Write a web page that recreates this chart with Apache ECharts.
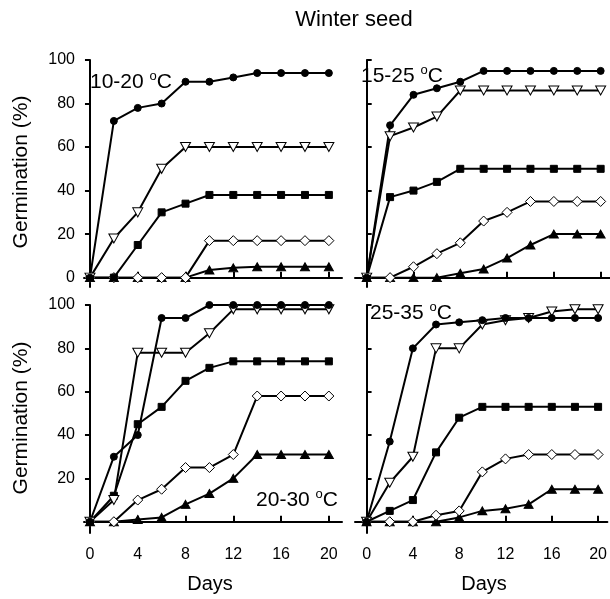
<!DOCTYPE html>
<html>
<head>
<meta charset="utf-8">
<script src="https://cdn.jsdelivr.net/npm/echarts@6/dist/echarts.min.js"></script>
<style>
  html, body { margin: 0; padding: 0; background: #fff; }
  #chart { width: 610px; height: 599px; }
</style>
</head>
<body>
<div id="chart"></div>
<script>
// days of incubation
var days = [0, 2, 4, 6, 8, 10, 12, 14, 16, 18, 20]
var xTicks = [0, 4, 8, 12, 16, 20]
var yTicksTop = [0, 20, 40, 60, 80, 100]
var yLabelsBottom = [20, 40, 60, 80, 100]

// 10-20 oC
var p1Circle = [0, 72, 78, 80, 90, 90, 92, 94, 94, 94, 94]
var p1TriDown = [0, 18, 30, 50, 60, 60, 60, 60, 60, 60, 60]
var p1Square = [0, 0, 15, 30, 34, 38, 38, 38, 38, 38, 38]
var p1Diamond = [0, 0, 0, 0, 0, 17, 17, 17, 17, 17, 17]
var p1TriUp = [0, 0, 0, 0, 0, 3.5, 4.5, 5, 5, 5, 5]

// 15-25 oC
var p2Circle = [0, 70, 84, 87, 90, 95, 95, 95, 95, 95, 95]
var p2TriDown = [0, 65, 69, 74, 86, 86, 86, 86, 86, 86, 86]
var p2Square = [0, 37, 40, 44, 50, 50, 50, 50, 50, 50, 50]
var p2Diamond = [0, 0, 5, 11, 16, 26, 30, 35, 35, 35, 35]
var p2TriUp = [0, 0, 0, 0, 2, 4, 9, 15, 20, 20, 20]

// 20-30 oC
var p3Circle = [0, 30, 40, 94, 94, 100, 100, 100, 100, 100, 100]
var p3TriDown = [0, 10, 78, 78, 78, 87, 98, 98, 98, 98, 98]
var p3Square = [0, 12, 45, 53, 65, 71, 74, 74, 74, 74, 74]
var p3Diamond = [0, 0, 10, 15, 25, 25, 31, 58, 58, 58, 58]
var p3TriUp = [0, 0, 1, 2, 8, 13, 20, 31, 31, 31, 31]

// 25-35 oC
var p4Circle = [0, 37, 80, 91, 92, 93, 94, 94, 94, 94, 94]
var p4TriDown = [0, 18, 30, 80, 80, 91, 93, 94, 97, 98, 98]
var p4Square = [0, 5, 10, 32, 48, 53, 53, 53, 53, 53, 53]
var p4Diamond = [0, 0, 0, 3, 5, 23, 29, 31, 31, 31, 31]
var p4TriUp = [0, 0, 0, 0, 2, 5, 6, 8, 15, 15, 15]

var FONT = 'Liberation Sans, Arial, sans-serif'

var chart = echarts.init(document.getElementById('chart'))

// marker styles
var markers = {
  circle: { symbol: 'circle', symbolSize: 7, fill: '#000', rotate: 0 },
  triDown: { symbol: 'triangle', symbolSize: [10, 9], fill: '#fff', rotate: 180 },
  square: { symbol: 'rect', symbolSize: 7, fill: '#000', rotate: 0 },
  diamond: { symbol: 'diamond', symbolSize: [10, 10], fill: '#fff', rotate: 0 },
  triUp: { symbol: 'triangle', symbolSize: [9, 8], fill: '#000', rotate: 0 }
}

function makeSeries(panel, vals, m) {
  var mk = markers[m]
  return {
    type: 'line',
    xAxisIndex: panel,
    yAxisIndex: panel,
    data: days.map(function (d, i) { return [d, vals[i]] }),
    symbol: mk.symbol,
    symbolSize: mk.symbolSize,
    symbolRotate: mk.rotate,
    showAllSymbol: true,
    lineStyle: { color: '#000', width: 2 },
    itemStyle: { color: mk.fill, borderColor: '#000', borderWidth: 1, opacity: 1 },
    emphasis: { disabled: true }
  }
}

var panels = [
  [p1Circle, p1TriDown, p1Square, p1Diamond, p1TriUp],
  [p2Circle, p2TriDown, p2Square, p2Diamond, p2TriUp],
  [p3Circle, p3TriDown, p3Square, p3Diamond, p3TriUp],
  [p4Circle, p4TriDown, p4Square, p4Diamond, p4TriUp]
]
var order = ['circle', 'triDown', 'square', 'diamond', 'triUp']

var series = []
panels.forEach(function (p, pi) {
  // draw open markers' lines first so the filled ones sit on top
  for (var k = p.length - 1; k >= 0; k--) {
    series.push(makeSeries(pi, p[k], order[k]))
  }
})

function xAxis(idx, min, max, showLabel) {
  return {
    type: 'value',
    gridIndex: idx,
    min: min,
    max: max,
    splitLine: { show: false },
    axisLine: { lineStyle: { color: '#000', width: 2 } },
    axisTick: { inside: true, length: 6, lineStyle: { color: '#000', width: 2 }, customValues: xTicks },
    axisLabel: { show: showLabel, customValues: xTicks, margin: 14, color: '#000', fontSize: 16, fontFamily: FONT }
  }
}

function yAxis(idx, min, left, ticks, labels) {
  return {
    type: 'value',
    gridIndex: idx,
    min: min,
    max: 100,
    splitLine: { show: false },
    axisLine: { lineStyle: { color: '#000', width: 2 } },
    axisTick: { inside: !left, length: 5, lineStyle: { color: '#000', width: 2 }, customValues: ticks },
    axisLabel: { show: left, customValues: labels, margin: 9, color: '#000', fontSize: 16, fontFamily: FONT }
  }
}

function panelLabel(txt, x, y, align) {
  return {
    type: 'text',
    x: x,
    y: y,
    style: {
      text: '{a|' + txt + ' }{s|o}{a|C}',
      align: align,
      verticalAlign: 'middle',
      rich: {
        a: { fontSize: 21, fontFamily: FONT, fill: '#000', lineHeight: 23, verticalAlign: 'bottom' },
        s: { fontSize: 13, fontFamily: FONT, fill: '#000', lineHeight: 23, verticalAlign: 'top', padding: [0, 0, 9, 0] }
      }
    }
  }
}

function plainText(txt, x, y, size, rot) {
  return {
    type: 'text',
    x: x,
    y: y,
    rotation: rot || 0,
    style: {
      text: txt,
      fontSize: size,
      fontFamily: FONT,
      fill: '#000',
      align: 'center',
      verticalAlign: 'middle'
    }
  }
}

chart.setOption({
  animation: false,
  backgroundColor: '#fff',
  grid: [
    { left: 84, top: 60, width: 258, height: 227 },
    { left: 355, top: 60, width: 255, height: 227 },
    { left: 84, top: 305, width: 258, height: 228 },
    { left: 355, top: 305, width: 255, height: 228 }
  ],
  xAxis: [
    xAxis(0, -0.5, 21.1, false),
    xAxis(1, -1, 20.8, false),
    xAxis(2, -0.5, 21.1, true),
    xAxis(3, -1, 20.8, true)
  ],
  yAxis: [
    yAxis(0, -4.3, true, yTicksTop, yTicksTop),
    yAxis(1, -4.3, false, yTicksTop, []),
    yAxis(2, -5.2, true, yTicksTop, yLabelsBottom),
    yAxis(3, -5.2, false, yTicksTop, [])
  ],
  series: series,
  graphic: [
    plainText('Winter seed', 354, 20, 22),
    plainText('Germination (%)', 21, 172, 21, Math.PI / 2),
    plainText('Germination (%)', 21, 418, 21, Math.PI / 2),
    plainText('Days', 210, 584, 20),
    plainText('Days', 484, 584, 20),
    panelLabel('10-20', 90, 81, 'left'),
    panelLabel('15-25', 361, 75, 'left'),
    panelLabel('20-30', 338, 499, 'right'),
    panelLabel('25-35', 370, 312, 'left')
  ]
})
</script>
</body>
</html>
